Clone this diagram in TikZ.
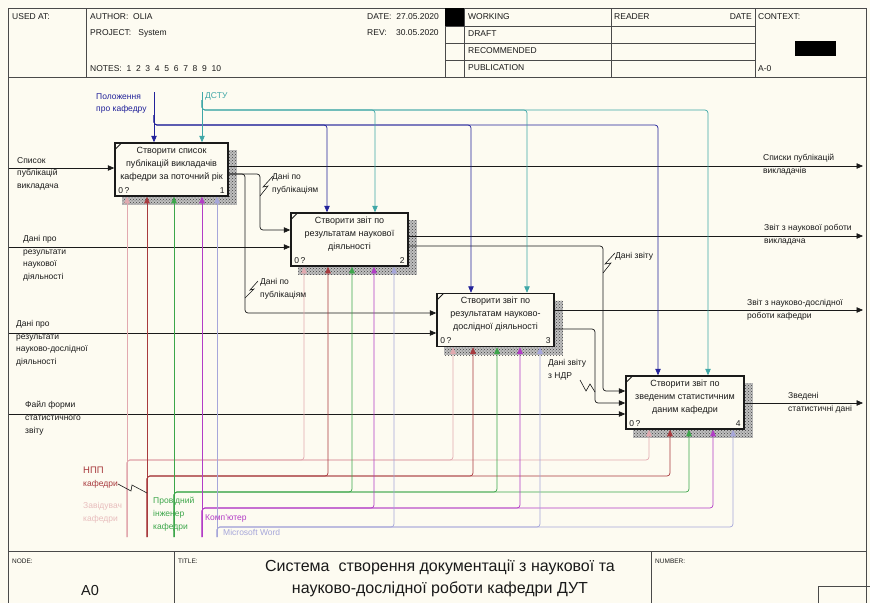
\documentclass[tikz,border=0pt]{standalone}
\usepackage{fontspec}
\setmainfont{Liberation Sans}
\usetikzlibrary{arrows.meta,patterns,calc}

\definecolor{paper}{HTML}{FDFBF1}
\definecolor{ink}{HTML}{1A1A1A}
\definecolor{frame}{HTML}{4A4A4A}
\definecolor{navyc}{HTML}{22229A}
\definecolor{tealc}{HTML}{3FA7A7}
\definecolor{mpink}{HTML}{E2A9AF}
\definecolor{mpinktxt}{HTML}{E8BDBD}
\definecolor{mred}{HTML}{A83A3E}
\definecolor{mgreen}{HTML}{3CA64A}
\definecolor{mmag}{HTML}{B23CC6}
\definecolor{mlav}{HTML}{A6A6DA}

\pgfdeclarelayer{back}
\pgfdeclarelayer{shade}
\pgfdeclarelayer{wires}
\pgfsetlayers{back,shade,wires,main}

\tikzset{
  tip/.style={-{Triangle[length=6.5pt,width=5.5pt]}},
  flow/.style={draw=ink, line width=0.7pt, rounded corners=3pt, tip},
  ctl/.style={draw=#1, line width=0.7pt, rounded corners=3pt, tip},
  mech/.style={draw=#1, line width=0.7pt, rounded corners=3pt, tip},
  zig/.style={draw=ink, line width=0.6pt},
  rule/.style={draw=frame, line width=0.9pt},
  lbl/.style={font=\fontsize{8.5}{12.8}\selectfont, align=left, anchor=north west, inner sep=0pt, text=ink},
  hdr/.style={font=\fontsize{8.5}{10}\selectfont, anchor=west, inner sep=0pt, text=ink},
  small/.style={font=\fontsize{6.5}{8}\selectfont, anchor=west, inner sep=0pt, text=ink},
  actbox/.style={draw=ink, line width=1.5pt, fill=paper, minimum height=53pt, inner sep=0pt},
  boxtxt/.style={font=\fontsize{9}{13}\selectfont, align=center, inner sep=0pt, text=ink},
  boxnum/.style={font=\fontsize{8.5}{10}\selectfont, inner sep=0pt, text=ink},
  shadowbase/.style={fill=black!25},
  shadowfill/.style={pattern=crosshatch dots, pattern color=black!75},
}

\begin{document}
\begin{tikzpicture}[x=1pt,y=-1pt]
\useasboundingbox (0,0) rectangle (870,603);

\begin{pgfonlayer}{back}
  \fill[paper] (0,0) rectangle (870,603);
\end{pgfonlayer}

% ---------- header ----------
\draw[rule] (8,8) rectangle (866,77);
\draw[rule] (86,8) -- (86,77);
\draw[rule] (445,8) -- (445,77);
\draw[rule] (464,8) -- (464,77);
\draw[rule] (611,8) -- (611,77);
\draw[rule] (755,8) -- (755,77);
\foreach \yy in {26,43,60} \draw[rule] (445,\yy) -- (755,\yy);
\fill[black] (445,8) rectangle (464,26);
\fill[black] (795,41) rectangle (836,56);

\node[hdr] (hused) at (12,17) {USED AT:};
\node[hdr] (hauth) at (90,17) {AUTHOR:\ \ OLIA};
\node[hdr] (hproj) at (90,33) {PROJECT:\ \ \ System};
\node[hdr] (hnote) at (90,69) {NOTES:\ \ 1\ \ 2\ \ 3\ \ 4\ \ 5\ \ 6\ \ 7\ \ 8\ \ 9\ \ 10};
\node[hdr] (hdate) at (367,17) {DATE:\ \ 27.05.2020};
\node[hdr] (hrev) at (367,33) {REV:\ \ \ \ 30.05.2020};
\node[hdr] (hwork) at (468,17) {WORKING};
\node[hdr] (hdraft) at (468,34) {DRAFT};
\node[hdr] (hrec) at (468,51) {RECOMMENDED};
\node[hdr] (hpub) at (468,68) {PUBLICATION};
\node[hdr] (hread) at (614,17) {READER};
\node[hdr, anchor=east] (hrdate) at (752,17) {DATE};
\node[hdr] (hctx) at (758,17) {CONTEXT:};
\node[hdr] (hnode) at (758,69) {A-0};

% ---------- side and footer frame ----------
\draw[rule] (8,77) -- (8,603);
\draw[rule] (866,77) -- (866,603);
\draw[rule] (8,551) -- (866,551);
\draw[rule] (174,551) -- (174,603);
\draw[rule] (651,551) -- (651,603);
\draw[rule] (818,603) -- (818,586) -- (870,586);

\node[small] (fnode) at (12,561) {NODE:};
\node[small] (ftitle) at (178,561) {TITLE:};
\node[small] (fnum) at (655,561) {NUMBER:};
\node[font=\fontsize{14.5}{16}\selectfont, inner sep=0pt, text=ink] (fa0) at (90,590) {A0};
\node[font=\fontsize{16}{22}\selectfont, align=center, inner sep=0pt, text=ink] (fttl) at (440,578)
  {Система\ \ створення документації з наукової та\\науково-дослідної роботи кафедри ДУТ};

% ---------- activity boxes ----------
\node[actbox, minimum width=113pt] (b1) at (171.5,169.5) {};
\node[actbox, minimum width=117pt] (b2) at (349.5,239.5) {};
\node[actbox, minimum width=117pt] (b3) at (495.5,320) {};
\node[actbox, minimum width=118pt] (b4) at (685,402.5) {};

\node[boxtxt] (t1) at ([yshift=5.5pt]b1.center) {Створити список\\публікацій викладачів\\кафедри за поточний рік};
\node[boxtxt] (t2) at ([yshift=5.5pt]b2.center) {Створити звіт по\\результатам наукової\\діяльності};
\node[boxtxt] (t3) at ([yshift=5.5pt]b3.center) {Створити звіт по\\результатам науково-\\дослідної діяльності};
\node[boxtxt] (t4) at ([yshift=5.5pt]b4.center) {Створити звіт по\\зведеним статистичним\\даним кафедри};

\foreach \b/\k in {b1/1,b2/2,b3/3,b4/4}{
  \draw[ink, line width=0.8pt] ([shift={(1,7)}]\b.north west) -- ([shift={(7,1)}]\b.north west);
  \node[boxnum, anchor=south west] (\b z) at ([shift={(4,-3)}]\b.south west) {0\,?};
  \node[boxnum, anchor=south east] (\b k) at ([shift={(-4,-3)}]\b.south east) {\k};
  \begin{pgfonlayer}{shade}
    \fill[shadowbase] ([shift={(8,8)}]\b.north west) rectangle ([shift={(8,8)}]\b.south east);
    \fill[shadowfill] ([shift={(8,8)}]\b.north west) rectangle ([shift={(8,8)}]\b.south east);
  \end{pgfonlayer}
}

\begin{pgfonlayer}{wires}
% ---------- inputs ----------
\coordinate (in1) at (8,168);
\coordinate (in2) at (8,247);
\coordinate (in3) at (8,333);
\coordinate (in4) at (8,414);
\draw[flow] (in1) -- (in1 -| b1.west);
\draw[flow] (in2) -- (in2 -| b2.west);
\draw[flow] (in3) -- (in3 -| b3.west);
\draw[flow] (in4) -- (in4 -| b4.west);

% ---------- outputs ----------
\coordinate (out1) at (863,166);
\coordinate (out2) at (863,236);
\coordinate (out3) at (863,310);
\coordinate (out4) at (863,403);
\draw[flow] (out1 -| b1.east) -- (out1);
\draw[flow] (out2 -| b2.east) -- (out2);
\draw[flow] (out3 -| b3.east) -- (out3);
\draw[flow] (out4 -| b4.east) -- (out4);

% ---------- internal flows ----------
\coordinate (p1) at (232,174);
\draw[flow] (b1.east |- p1) -- (260,174) -- (260,230) -- (b2.west |- 0,230);
\draw[flow] (b1.east |- p1) -- (245,174) -- (245,313) -- (b3.west |- 0,313);
\coordinate (p2) at (420,246);
\draw[flow] (b2.east |- p2) -- (603,246) -- (603,391) -- (b4.west |- 0,391);
\coordinate (p3) at (560,329);
\draw[flow] (b3.east |- p3) -- (595,329) -- (595,403) -- (b4.west |- 0,403);

% ---------- controls ----------
\coordinate (srcN) at (154,92);
\coordinate (srcT) at (202,92);
\draw[ctl=navyc] (srcN) -- (srcN |- b1.north);
\foreach \x/\b in {327/b2,471/b3,658/b4}
  \draw[ctl=navyc] (154,115) -- (154,125) -- (\x,125) -- (\x,0 |- \b.north);
\draw[ctl=tealc] (srcT) -- (srcT |- b1.north);
\foreach \x/\b in {375/b2,527/b3,708/b4}
  \draw[ctl=tealc] (202,100) -- (202,110) -- (\x,110) -- (\x,0 |- \b.north);

% ---------- mechanisms ----------
\foreach \c/\sx/\by/\xb/\xc/\xd in {mpink/127/460/304/453/649, mred/147/476/328/473/670,
    mgreen/174/492/352/497/689, mmag/202/508/374/520/713, mlav/217/527/394/540/733}{
  \coordinate (m\c) at (\sx,537);
  \draw[mech=\c] (m\c) -- (m\c |- b1.south);
  \draw[mech=\c] (m\c) -- (\sx,\by) -- (\xb,\by) -- (\xb,0 |- b2.south);
  \draw[mech=\c] (m\c) -- (\sx,\by) -- (\xc,\by) -- (\xc,0 |- b3.south);
  \draw[mech=\c] (m\c) -- (\sx,\by) -- (\xd,\by) -- (\xd,0 |- b4.south);
}

% ---------- label leaders ----------
\draw[zig] (273,176) -- (263,187) -- (268,186) -- (260,196);
\draw[zig] (258,281) -- (250,290) -- (254,289) -- (245,298);
\draw[zig] (615,253) -- (605,264) -- (611,263) -- (603,273);
\draw[zig] (580,380) -- (586,391) -- (590,384) -- (595,392);
\draw[zig] (118,484) -- (131,491) -- (132,485) -- (147,493);
\end{pgfonlayer}

% ---------- arrow labels ----------
\node[lbl] (lin1) at (17,157) {Список\\публікацій\\викладача};
\node[lbl] (lin2) at (23,235) {Дані про\\результати\\наукової\\діяльності};
\node[lbl] (lin3) at (16,320) {Дані про\\результати\\науково-дослідної\\діяльності};
\node[lbl] (lin4) at (25,401) {Файл форми\\статистичного\\звіту};

\node[lbl] (lout1) at (763,154) {Списки публікацій\\викладачів};
\node[lbl] (lout2) at (764,224) {Звіт з наукової роботи\\викладача};
\node[lbl] (lout3) at (747,299) {Звіт з науково-дослідної\\роботи кафедри};
\node[lbl] (lout4) at (788,392) {Зведені\\статистичні дані};

\node[lbl] (lp1) at (272,173) {Дані по\\публікаціям};
\node[lbl] (lp2) at (260,278) {Дані по\\публікаціям};
\node[lbl] (lp3) at (615,252) {Дані звіту};
\node[lbl] (lp4) at (548,359) {Дані звіту\\з НДР};

\node[lbl, text=navyc] (lc1) at (96,93) {Положення\\про кафедру};
\node[lbl, text=tealc] (lc2) at (205,92) {ДСТУ};

\node[lbl] (lm2) at (83,467) {\textcolor{mred}{\fontsize{9.5}{12}\selectfont НПП}\\\textcolor{mred}{кафедри}};
\node[lbl, text=mpinktxt] (lm1) at (83,502) {Завідувач\\кафедри};
\node[lbl, text=mgreen] (lm3) at (153,497) {Провідний\\інженер\\кафедри};
\node[lbl, text=mmag] (lm4) at (205,514) {Комп'ютер};
\node[lbl, text=mlav] (lm5) at (223,529) {Microsoft Word};

\end{tikzpicture}
\end{document}
